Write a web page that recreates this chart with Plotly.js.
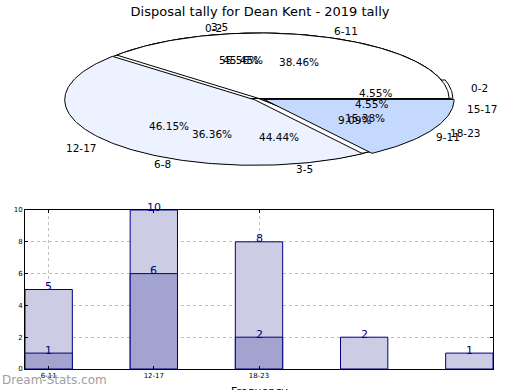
<!DOCTYPE html>
<html><head><meta charset="utf-8">
<script src="https://cdn.plot.ly/plotly-3.0.1.min.js"></script>
<style>html,body{margin:0;padding:0;background:#fff}#chart{width:520px;height:390px}</style>
</head><body><div id="chart"></div>
<script>
const titleText = "Disposal tally for Dean Kent - 2019 tally";
const xAxisTitle = "Frequency";
// Three overlapping pies (drawn C, B, A)
const pieALabels = ["6-11", "12-17", "18-23"];
const pieAValues = [5, 6, 2];
const pieBLabels = ["0-2", "3-5", "6-8", "9-11", "15-17"];
const pieBValues = [1, 10, 8, 2, 1];
const pieCLabels = ["0-2", "3-5"];
const pieCValues = [5, 4];
// Bar chart
const barPositions = [0, 1, 2, 3, 4];
const barTotals = [5, 10, 8, 2, 1];
const barInnerPositions = [0, 1, 2];
const barInner = [1, 6, 2];
const barTickLabels = ["6-11", "12-17", "18-23"];

// styles
const pieAColors = ["#ffffff", "#ecf2ff", "#c5d9ff"];
const pieAExplode = [0, 0.03, 0.03];
const pieBColors = ["#ffffff", "#ffffff", "#ffffff", "#ffffff", "#ffffff"];
const pieBExplode = [0.02, 0, 0, 0, 0];
const pieCColors = ["#ffffff", "#ffffff"];
const pieCExplode = [0, 0];

const traces = [];
const annotations = [];
const FONT = "DejaVu Sans";

function wedgePath(a0, a1, ox, oy) {
  const xs = [ox], ys = [oy];
  const n = Math.max(2, Math.ceil((a1 - a0) / (Math.PI / 180)));
  for (let i = 0; i <= n; i++) {
    const a = a0 + (a1 - a0) * i / n;
    xs.push(ox + Math.cos(a)); ys.push(oy + Math.sin(a));
  }
  xs.push(ox); ys.push(oy);
  return {xs, ys};
}

function addPie(labels, values, colors, explode, shadow) {
  const total = values.reduce((a, b) => a + b, 0);
  let start = 0;
  const wedges = [];
  values.forEach((v, i) => {
    const a0 = start / total * 2 * Math.PI;
    const a1 = (start + v) / total * 2 * Math.PI;
    start += v;
    const m = (a0 + a1) / 2;
    const ox = explode[i] * Math.cos(m), oy = explode[i] * Math.sin(m);
    wedges.push({a0, a1, m, ox, oy, i, v});
  });
  if (shadow) {
    wedges.forEach(w => {
      const p = wedgePath(w.a0, w.a1, w.ox - 0.02, w.oy - 0.02);
      traces.push({type: "scatter", mode: "lines", x: p.xs, y: p.ys, xaxis: "x2", yaxis: "y2",
        fill: "toself", fillcolor: "rgba(60,60,60,0.5)", line: {width: 0, color: "rgba(0,0,0,0)"},
        hoverinfo: "skip", showlegend: false});
    });
  }
  wedges.forEach(w => {
    const p = wedgePath(w.a0, w.a1, w.ox, w.oy);
    traces.push({type: "scatter", mode: "lines", x: p.xs, y: p.ys, xaxis: "x2", yaxis: "y2",
      fill: "toself", fillcolor: colors[w.i], line: {width: 1, color: "#000"},
      hoverinfo: "skip", showlegend: false});
    const lx = w.ox + 1.1 * Math.cos(w.m), ly = w.oy + 1.1 * Math.sin(w.m);
    annotations.push({xref: "x2", yref: "y2", x: lx, y: ly, text: labels[w.i], showarrow: false,
      xanchor: lx > 0 ? "left" : "right", yanchor: "middle", borderpad: 0,
      font: {family: FONT, size: 10.5, color: "#000"}});
    const px = w.ox + 0.6 * Math.cos(w.m), py = w.oy + 0.6 * Math.sin(w.m);
    annotations.push({xref: "x2", yref: "y2", x: px, y: py, text: (w.v / total * 100).toFixed(2) + "%",
      showarrow: false, xanchor: "center", yanchor: "middle", borderpad: 0,
      font: {family: FONT, size: 10.5, color: "#000"}});
  });
}

addPie(pieCLabels, pieCValues, pieCColors, pieCExplode, true);
addPie(pieBLabels, pieBValues, pieBColors, pieBExplode, false);
addPie(pieALabels, pieAValues, pieAColors, pieAExplode, false);

traces.push({type: "bar", x: barPositions, y: barTotals, width: 0.45,
  marker: {color: "#cccce5", line: {color: "#000080", width: 1}}, hoverinfo: "skip", showlegend: false});
traces.push({type: "bar", x: barInnerPositions, y: barInner, width: 0.45,
  marker: {color: "#a3a3d0", line: {color: "#000080", width: 1}}, hoverinfo: "skip", showlegend: false});

barPositions.forEach((x, i) => annotations.push({xref: "x", yref: "y", x: x, y: barTotals[i], text: String(barTotals[i]),
  showarrow: false, yanchor: "middle", yshift: 3, font: {family: FONT, size: 11, color: "#000080"}}));
barInnerPositions.forEach((x, i) => annotations.push({xref: "x", yref: "y", x: x, y: barInner[i], text: String(barInner[i]),
  showarrow: false, yanchor: "middle", yshift: 3, font: {family: FONT, size: 11, color: "#000080"}}));

annotations.push({xref: "paper", yref: "paper", x: 0, y: 10 / 390, xanchor: "left", yanchor: "middle",
  text: "Dream-Stats.com", showarrow: false, font: {family: FONT, size: 12, color: "#a0a0a0"}});
// axis title sits partly below the picture edge, as in the reference
annotations.push({xref: "x domain", yref: "paper", x: 0.5, y: 6 / 390, xanchor: "center", yanchor: "top",
  text: xAxisTitle, showarrow: false, borderpad: 0, font: {family: FONT, size: 11, color: "#000"}});

// pie axes: centre at px (259, 98.5), radii 190 x 65.5 px
const CX = 259, CY = 98.5, RX = 190, RY = 65.5;
const layout = {
  width: 520, height: 390, margin: {l: 0, r: 0, t: 0, b: 0},
  paper_bgcolor: "#fff", plot_bgcolor: "rgba(0,0,0,0)",
  title: {text: titleText, x: 0.5, xanchor: "center", y: 1 - 11 / 390, yanchor: "middle", yref: "container",
    font: {family: FONT, size: 13, color: "#000"}},
  barmode: "overlay",
  xaxis2: {domain: [0, 1], range: [-CX / RX, (520 - CX) / RX], visible: false, fixedrange: true, anchor: "y2"},
  yaxis2: {domain: [0, 1], range: [-(390 - CY) / RY, CY / RY], visible: false, fixedrange: true, anchor: "x2"},
  xaxis: {domain: [25 / 520, 493 / 520], anchor: "y", range: [-0.225, 4.225], tickvals: [0, 1, 2], ticktext: barTickLabels,
    tickfont: {family: FONT, size: 7, color: "#000"}, showgrid: true, gridcolor: "#c0c0c0", griddash: "dot", gridwidth: 1,
    showline: true, mirror: "ticks", linecolor: "#000", linewidth: 1, ticks: "inside", ticklen: 3, tickcolor: "#000",
    zeroline: false, fixedrange: true},
  yaxis: {domain: [21 / 390, 180 / 390], anchor: "x", range: [0, 10], dtick: 2,
    tickfont: {family: FONT, size: 7, color: "#000"}, showgrid: true, gridcolor: "#c0c0c0", griddash: "dot", gridwidth: 1,
    showline: true, mirror: "ticks", linecolor: "#000", linewidth: 1, ticks: "inside", ticklen: 3, tickcolor: "#000",
    zeroline: false, fixedrange: true},
  annotations: annotations
};
Plotly.newPlot("chart", traces, layout, {staticPlot: true, displayModeBar: false});
</script></body></html>
